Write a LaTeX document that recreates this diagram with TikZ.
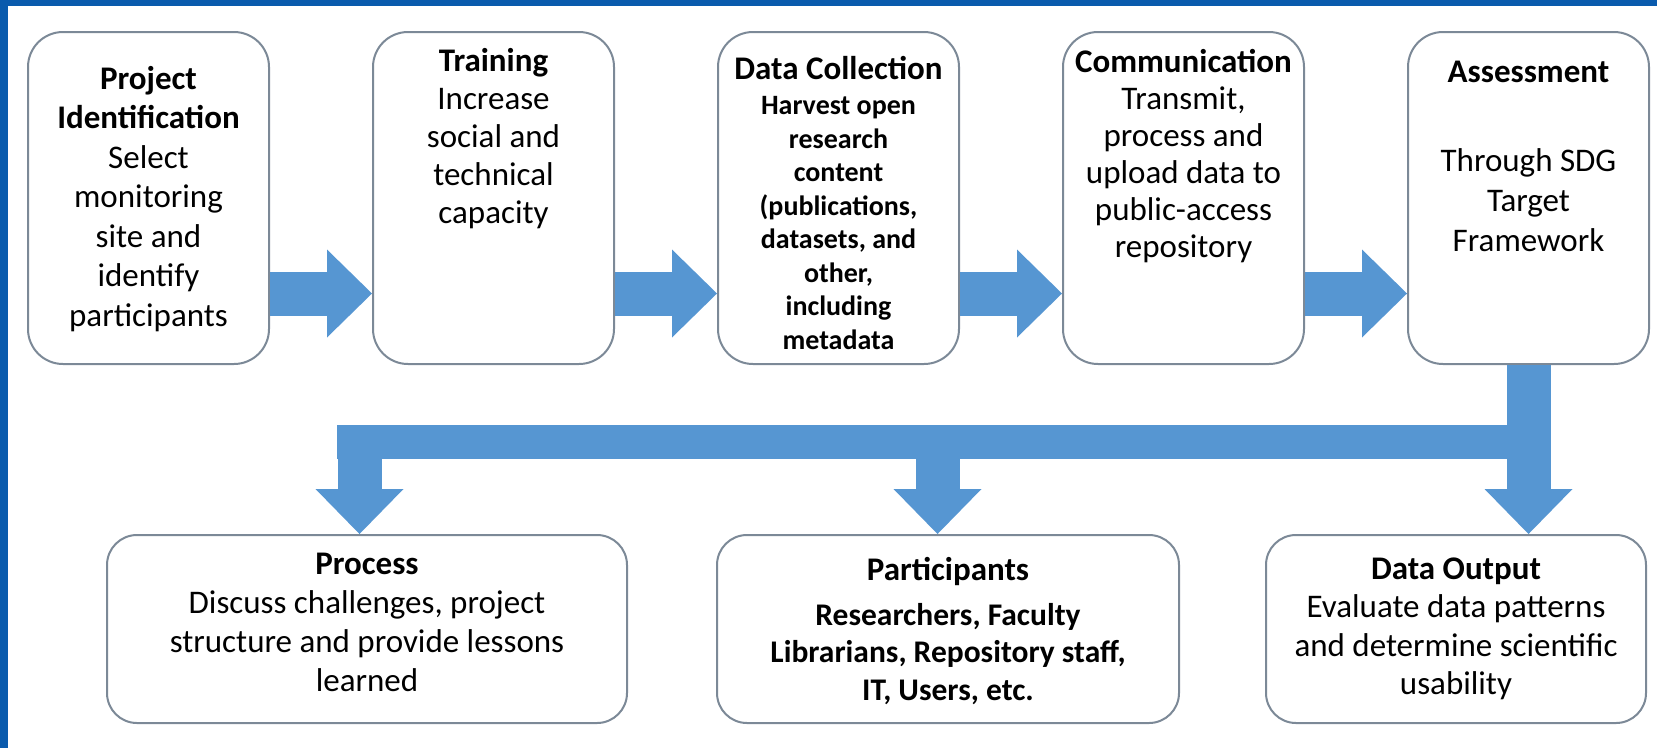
\documentclass[tikz,border=0pt]{standalone}
\usepackage{fontspec}
\setmainfont{Carlito}
\usepackage{tikz}
\usetikzlibrary{positioning, arrows.meta}
\definecolor{framebl}{HTML}{0A5BAD}
\definecolor{flowbl}{HTML}{5696D2}
\definecolor{boxline}{HTML}{7C8997}
\tikzstyle{topbox} = [rectangle, rounded corners=35pt, minimum width=241pt, minimum height=332pt, draw=boxline, line width=2pt, fill=white]
\tikzstyle{lowbox} = [rectangle, rounded corners=30pt, minimum height=188pt, draw=boxline, line width=2pt, fill=white]
\tikzstyle{txt} = [align=center, inner sep=0pt, font=\fontsize{33}{39}\selectfont]
\tikzstyle{flow} = [draw=flowbl, line width=44pt, -{Triangle[width=88pt, length=45pt, line width=0pt]}]
\tikzstyle{bar} = [draw=flowbl, line width=34pt]

\begin{document}
\begin{tikzpicture}[x=1pt, y=-1pt, node distance=102pt]
    \useasboundingbox (0,0) rectangle (1657,748);
    \fill [framebl] (0,0) rectangle (1657,6);
    \fill [framebl] (0,0) rectangle (8,748);

    \node (Ident) [topbox] at (148.5,198) {};
    \node (Train) [topbox, right=of Ident] {};
    \node (Collect) [topbox, right=of Train] {};
    \node (Comm) [topbox, right=of Collect] {};
    \node (Assess) [topbox, right=of Comm] {};

    \node (Proc) [lowbox, minimum width=520pt] at (367,629) {};
    \node (Part) [lowbox, minimum width=462pt, right=88pt of Proc] {};
    \node (Out) [lowbox, minimum width=380pt, right=85pt of Part] {};

    \node (IdentTxt) [txt, font=\fontsize{33}{39.5}\selectfont] at ([yshift=-1pt]Ident.center) {\textbf{Project}\\\textbf{Identification}\\Select\\monitoring\\site and\\identify\\participants};
    \node (TrainTxt) [txt, font=\fontsize{33}{38}\selectfont] at ([yshift=59pt]Train.center) {\textbf{Training}\\Increase\\social and\\technical\\capacity};
    \node (CollectHead) [txt] at ([yshift=130pt]Collect.center) {\textbf{Data Collection}};
    \node (CollectTxt) [txt, font=\bfseries\fontsize{28}{33.5}\selectfont] at ([yshift=-25pt]Collect.center) {Harvest open\\research\\content\\(publications,\\datasets, and\\other,\\including\\metadata};
    \node (CommTxt) [txt, font=\fontsize{33}{37}\selectfont] at ([yshift=42pt]Comm.center) {\textbf{Communication}\\Transmit,\\process and\\upload data to\\public-access\\repository};
    \node (AssessHead) [txt] at ([yshift=126pt]Assess.center) {\textbf{Assessment}};
    \node (AssessTxt) [txt, font=\fontsize{33}{40}\selectfont] at ([yshift=-2pt]Assess.center) {Through SDG\\Target\\Framework};

    \node (ProcTxt) [txt] at ([yshift=7pt]Proc.center) {\textbf{Process}\\Discuss challenges, project\\structure and provide lessons\\learned};
    \node (PartHead) [txt] at ([yshift=58pt]Part.center) {\textbf{Participants}};
    \node (PartTxt) [txt, font=\bfseries\fontsize{31.5}{37.5}\selectfont] at ([yshift=-25pt]Part.center) {Researchers, Faculty\\Librarians, Repository staff,\\IT, Users, etc.};
    \node (OutTxt) [txt, font=\fontsize{33}{38.5}\selectfont] at (Out.center) {\textbf{Data Output}\\Evaluate data patterns\\and determine scientific\\usability};

    \coordinate (BarL) at (337,442);
    \coordinate (DropA) at (359.5,425);
    \coordinate (DropB) at (937.5,425);

    \draw [flow] ([yshift=-95.5pt]Ident.east) -- ([yshift=-95.5pt]Train.west);
    \draw [flow] ([yshift=-95.5pt]Train.east) -- ([yshift=-95.5pt]Collect.west);
    \draw [flow] ([yshift=-95.5pt]Collect.east) -- ([yshift=-95.5pt]Comm.west);
    \draw [flow] ([yshift=-95.5pt]Comm.east) -- ([yshift=-95.5pt]Assess.west);
    \draw [bar] (BarL) -- (BarL -| Assess.south);
    \draw [flow] (Assess.south) -- (Assess.south |- Out.north);
    \draw [flow] (DropA) -- (DropA |- Proc.north);
    \draw [flow] (DropB) -- (DropB |- Part.north);
\end{tikzpicture}
\end{document}
